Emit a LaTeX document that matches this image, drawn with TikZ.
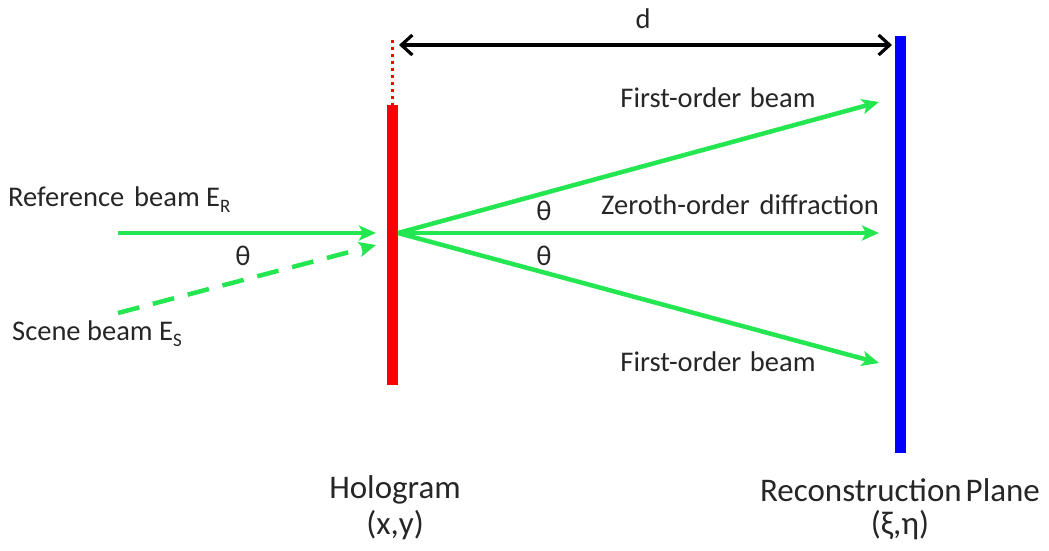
\documentclass[tikz,border=0pt]{standalone}
\usepackage{fontspec}
\setmainfont{Carlito}
\usetikzlibrary{arrows.meta}
\newcommand{\lowsub}[1]{\raisebox{-0.45ex}{\fontsize{19}{19}\selectfont #1}}
\definecolor{beamgreen}{RGB}{36,230,80}
\definecolor{holored}{RGB}{255,0,0}
\definecolor{planeblue}{RGB}{0,0,255}
\tikzset{
  beam/.style={draw=beamgreen, line width=4.5pt, -{Stealth[length=17pt,width=15pt,inset=4pt]}},
  lbl/.style={font=\fontsize{28.5}{32}\selectfont, text=black!85, inner sep=0pt},
  biglbl/.style={font=\fontsize{33}{37}\selectfont, text=black!85, inner sep=0pt},
}
\begin{document}
\begin{tikzpicture}[x=1pt,y=-1pt]
\useasboundingbox (0,0) rectangle (1049,550);
% hologram and plane
\fill[holored] (387,105) rectangle (398,385);
\coordinate (htop) at (392,105);
\coordinate (hdot) at (392,40);
\draw[holored, line width=3pt, dash pattern=on 3pt off 4pt] (hdot) -- (htop);
\fill[planeblue] (895,36) rectangle (906,453);
\coordinate (dl) at (399,45);
\coordinate (dr) at (892,45);
\draw[black, line width=3.2pt, {Straight Barb[length=11pt,width=20pt,line width=3.2pt]}-{Straight Barb[length=11pt,width=20pt,line width=3.2pt]}] (dl) -- (dr);
\node[lbl] (d) at (643,19) {d};
% incoming beams
\coordinate (rs) at (118,233);
\coordinate (re) at (376,233);
\coordinate (ss) at (118,313);
\coordinate (se) at (376,245);
\draw[beam] (rs) -- (re);
\draw[beam, dash pattern=on 22pt off 14pt] (ss) -- (se);
% outgoing beams
\coordinate (o) at (398,233);
\coordinate (t1) at (879,102);
\coordinate (t0) at (879,233);
\coordinate (t2) at (879,363);
\draw[beam] (o) -- (t1);
\draw[beam] (o) -- (t0);
\draw[beam] (o) -- (t2);
% labels
\node[lbl, anchor=west] (ref) at (8,200) {Reference\hspace{0.35em}beam E\lowsub{R}};
\node[lbl] (th1) at (243,256) {θ};
\node[lbl, anchor=west] (scn) at (12,334) {Scene beam E\lowsub{S}};
\node[lbl] (fo1) at (718,98) {First-order\hspace{0.3em}beam};
\node[lbl] (zod) at (740,205) {Zeroth-order\hspace{0.35em}diffraction};
\node[lbl] (th2) at (544,211) {θ};
\node[lbl] (th3) at (544,256) {θ};
\node[lbl] (fo2) at (718,362) {First-order\hspace{0.3em}beam};
\node[biglbl] (holo) at (395,490) {Hologram};
\node[biglbl] (xy) at (395,525) {(x,y)};
\node[biglbl] (rp) at (900,490) {Reconstruction\hspace{4pt}Plane};
\node[biglbl] (xe) at (900,525) {(ξ,η)};
\end{tikzpicture}
\end{document}
